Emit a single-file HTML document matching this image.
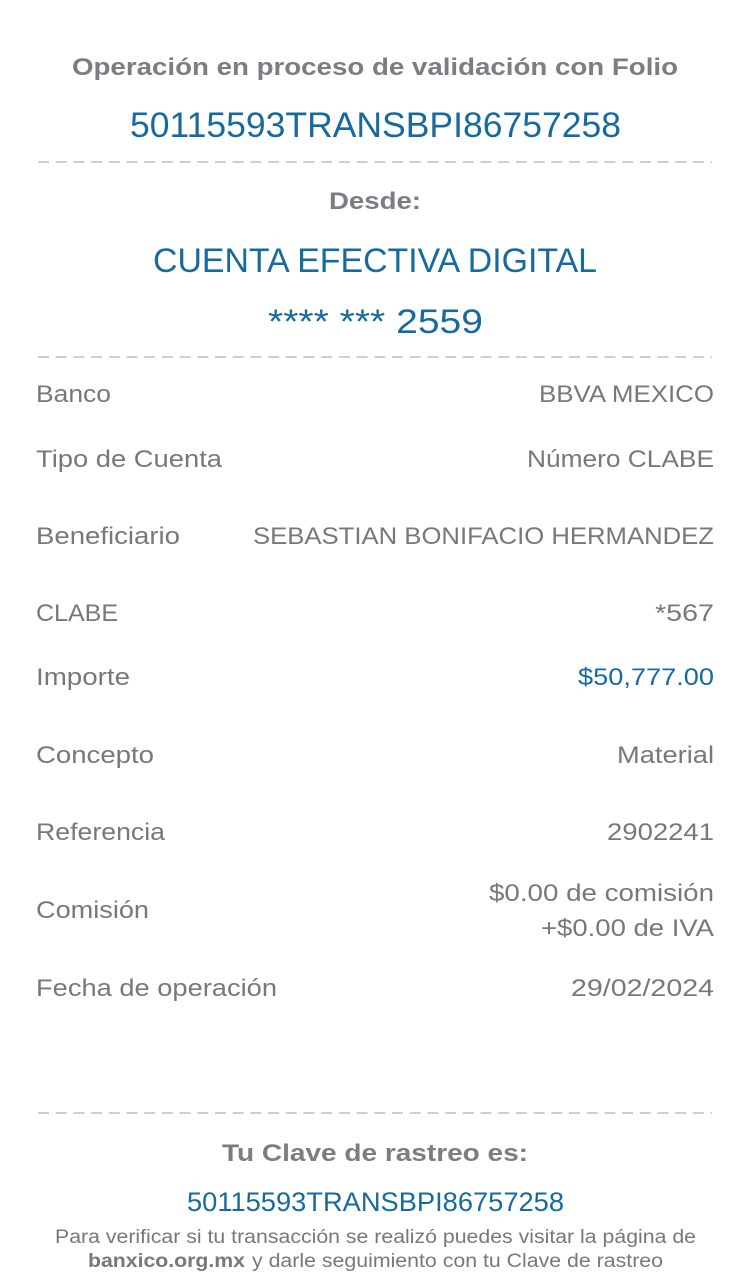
<!DOCTYPE html>
<html>
<head>
<meta charset="utf-8">
<style>
html,body{margin:0;padding:0;background:#fff;}
svg{display:block;}
text{font-family:"Liberation Sans",Arial,sans-serif;}
.h{fill:#7c7d82;font-weight:bold;font-size:24px;}
.b{fill:#176a9c;}
.g{fill:#77787c;font-size:24px;}
.s{fill:#77787c;font-size:19px;}
</style>
</head>
<body>
<svg width="752" height="1280" viewBox="0 0 752 1280" xmlns="http://www.w3.org/2000/svg">
<rect width="752" height="1280" fill="#fff"/>
<text class="h" x="72" y="75" textLength="606" lengthAdjust="spacingAndGlyphs">Operación en proceso de validación con Folio</text>
<text class="b" x="130" y="137" font-size="35" textLength="491" lengthAdjust="spacingAndGlyphs">50115593TRANSBPI86757258</text>
<line x1="38" y1="162" x2="712" y2="162" stroke="#cfcfd1" stroke-width="2" stroke-dasharray="11 6.7"/>
<text class="h" x="329" y="209" textLength="92" lengthAdjust="spacingAndGlyphs">Desde:</text>
<text class="b" x="153" y="272" font-size="34" textLength="444" lengthAdjust="spacingAndGlyphs">CUENTA EFECTIVA DIGITAL</text>
<text class="b" x="268" y="333" font-size="34" textLength="215" lengthAdjust="spacingAndGlyphs">**** *** 2559</text>
<line x1="38" y1="357" x2="712" y2="357" stroke="#cfcfd1" stroke-width="2" stroke-dasharray="11 6.7"/>

<text class="g" x="36" y="402" textLength="75" lengthAdjust="spacingAndGlyphs">Banco</text>
<text class="g" x="539" y="402" textLength="175" lengthAdjust="spacingAndGlyphs">BBVA MEXICO</text>

<text class="g" x="36" y="467" textLength="186" lengthAdjust="spacingAndGlyphs">Tipo de Cuenta</text>
<text class="g" x="527" y="467" textLength="187" lengthAdjust="spacingAndGlyphs">Número CLABE</text>

<text class="g" x="36" y="544" textLength="144" lengthAdjust="spacingAndGlyphs">Beneficiario</text>
<text class="g" x="253" y="544" textLength="461" lengthAdjust="spacingAndGlyphs">SEBASTIAN BONIFACIO HERMANDEZ</text>

<text class="g" x="36" y="621" textLength="82" lengthAdjust="spacingAndGlyphs">CLABE</text>
<text class="g" x="655" y="621" textLength="59" lengthAdjust="spacingAndGlyphs">*567</text>

<text class="g" x="36" y="685" textLength="94" lengthAdjust="spacingAndGlyphs">Importe</text>
<text class="b" x="578" y="685" font-size="24" textLength="136" lengthAdjust="spacingAndGlyphs">$50,777.00</text>

<text class="g" x="36" y="763" textLength="118" lengthAdjust="spacingAndGlyphs">Concepto</text>
<text class="g" x="617" y="763" textLength="97" lengthAdjust="spacingAndGlyphs">Material</text>

<text class="g" x="36" y="840" textLength="129" lengthAdjust="spacingAndGlyphs">Referencia</text>
<text class="g" x="607" y="840" textLength="107" lengthAdjust="spacingAndGlyphs">2902241</text>

<text class="g" x="36" y="918" textLength="113" lengthAdjust="spacingAndGlyphs">Comisión</text>
<text class="g" x="489" y="901" textLength="225" lengthAdjust="spacingAndGlyphs">$0.00 de comisión</text>
<text class="g" x="541" y="936" textLength="173" lengthAdjust="spacingAndGlyphs">+$0.00 de IVA</text>

<text class="g" x="36" y="996" textLength="241" lengthAdjust="spacingAndGlyphs">Fecha de operación</text>
<text class="g" x="571" y="996" textLength="143" lengthAdjust="spacingAndGlyphs">29/02/2024</text>

<line x1="38" y1="1113" x2="712" y2="1113" stroke="#cfcfd1" stroke-width="2" stroke-dasharray="11 6.7"/>
<text class="h" x="222" y="1161" textLength="306" lengthAdjust="spacingAndGlyphs">Tu Clave de rastreo es:</text>
<text class="b" x="187" y="1211" font-size="27" textLength="377" lengthAdjust="spacingAndGlyphs">50115593TRANSBPI86757258</text>
<text class="s" x="55" y="1243" textLength="641" lengthAdjust="spacingAndGlyphs">Para verificar si tu transacción se realizó puedes visitar la página de</text>
<text class="s" x="88" y="1267" font-weight="bold" fill="#6f7075" textLength="157" lengthAdjust="spacingAndGlyphs">banxico.org.mx</text>
<text class="s" x="252" y="1267" textLength="411" lengthAdjust="spacingAndGlyphs">y darle seguimiento con tu Clave de rastreo</text>
</svg>
</body>
</html>
